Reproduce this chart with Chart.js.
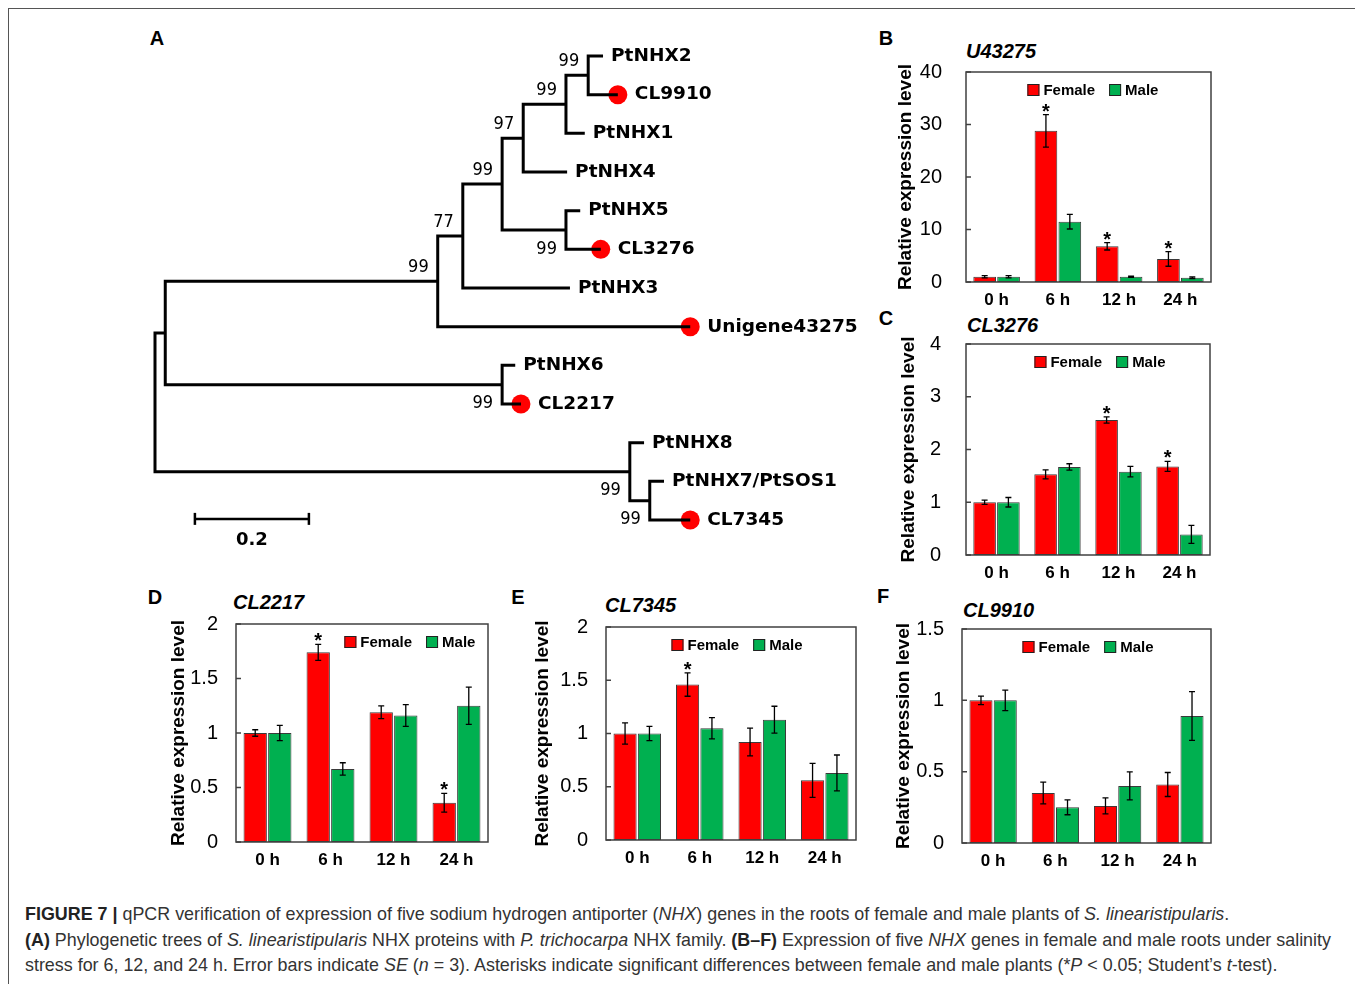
<!DOCTYPE html>
<html>
<head>
<meta charset="utf-8">
<script src="https://cdn.jsdelivr.net/npm/chart.js@4.4.0/dist/chart.umd.min.js"></script>
<style>
  html, body { margin: 0; padding: 0; background: #fff; }
  body { width: 1355px; height: 984px; position: relative; overflow: hidden; font-family: "Liberation Sans", Arial, sans-serif; }
  .rule-top { position: absolute; left: 8px; top: 8px; width: 1347px; border-top: 1.5px solid #555; }
  .rule-left { position: absolute; left: 8px; top: 8px; height: 976px; border-left: 1.5px solid #555; }
  canvas { position: absolute; }
  .letter { position: absolute; font: bold 20px "Liberation Sans", Arial, sans-serif; color: #000; transform: translate(-50%, -50%); }
  .gene { position: absolute; font: italic bold 20px "Liberation Sans", Arial, sans-serif; color: #000; transform: translateY(-50%); }
  .caption { position: absolute; left: 25px; top: 902px; font-size: 17.9px; line-height: 25.5px; color: #333; white-space: nowrap; }
  .caption b { color: #222; }
</style>
</head>
<body>
<div class="rule-top"></div>
<div class="rule-left"></div>

<div class="letter" style="left:157px;top:38px">A</div>
<div class="letter" style="left:886px;top:38px">B</div>
<div class="letter" style="left:886px;top:318px">C</div>
<div class="letter" style="left:155px;top:597px">D</div>
<div class="letter" style="left:518px;top:597px">E</div>
<div class="letter" style="left:883px;top:596px">F</div>

<div class="gene" style="left:966px;top:51px">U43275</div>
<div class="gene" style="left:967px;top:325px">CL3276</div>
<div class="gene" style="left:233px;top:602px">CL2217</div>
<div class="gene" style="left:605px;top:605px">CL7345</div>
<div class="gene" style="left:963px;top:610px">CL9910</div>

<canvas id="tree"></canvas>
<canvas id="panelB"></canvas>
<canvas id="panelC"></canvas>
<canvas id="panelD"></canvas>
<canvas id="panelE"></canvas>
<canvas id="panelF"></canvas>

<div class="caption">
  <div><b>FIGURE 7 |</b> qPCR verification of expression of five sodium hydrogen antiporter (<i>NHX</i>) genes in the roots of female and male plants of <i>S. linearistipularis</i>.</div>
  <div><b>(A)</b> Phylogenetic trees of <i>S. linearistipularis</i> NHX proteins with <i>P. trichocarpa</i> NHX family. <b>(B–F)</b> Expression of five <i>NHX</i> genes in female and male roots under salinity</div>
  <div>stress for 6, 12, and 24 h. Error bars indicate <i>SE</i> (<i>n</i> = 3). Asterisks indicate significant differences between female and male plants (*<i>P</i> &lt; 0.05; Student’s <i>t</i>-test).</div>
</div>

<script>
// ---- tree (A) ----
const leafNames = ["PtNHX2", "CL9910", "PtNHX1", "PtNHX4", "PtNHX5", "CL3276", "PtNHX3",
  "Unigene43275", "PtNHX6", "CL2217", "PtNHX8", "PtNHX7/PtSOS1", "CL7345"];
const leafDepths = [0.786, 0.812, 0.754, 0.723, 0.746, 0.782, 0.728, 0.939, 0.632, 0.642, 0.858, 0.893, 0.939];
const leafFromStudy = [false, true, false, false, false, true, false, true, false, true, false, false, true];
// each inner node joins two children: "Lk" = leaf k, "Nk" = inner node k
const nodeChildren = [["L0", "L1"], ["N0", "L2"], ["N1", "L3"], ["L4", "L5"], ["N2", "N3"], ["N4", "L6"],
  ["N5", "L7"], ["L8", "L9"], ["N6", "N7"], ["L11", "L12"], ["L10", "N9"], ["N8", "N10"]];
const nodeDepths = [0.760, 0.721, 0.646, 0.721, 0.609, 0.540, 0.496, 0.609, 0.018, 0.868, 0.833, 0];
const nodeSupport = [99, 99, 97, 99, 99, 77, 99, 99, null, 99, 99, null];
const supportBelow = [false, false, false, true, false, false, false, true, false, true, true, false];
const scaleBarLength = 0.2;

// ---- qPCR panels (B-F) ----
const timePoints = ["0 h", "6 h", "12 h", "24 h"];
const seriesNames = ["Female", "Male"];

const u43275Female = [1.0, 28.8, 6.8, 4.4];
const u43275FemaleSE = [0.2, 3.1, 0.7, 1.4];
const u43275Male = [1.0, 11.5, 1.0, 0.8];
const u43275MaleSE = [0.2, 1.4, 0.1, 0.15];
const u43275Star = [false, true, true, true];

const cl3276Female = [1.0, 1.53, 2.56, 1.68];
const cl3276FemaleSE = [0.04, 0.085, 0.06, 0.095];
const cl3276Male = [1.0, 1.67, 1.58, 0.39];
const cl3276MaleSE = [0.09, 0.06, 0.1, 0.17];
const cl3276Star = [false, false, true, true];

const cl2217Female = [1.0, 1.74, 1.19, 0.36];
const cl2217FemaleSE = [0.03, 0.073, 0.058, 0.086];
const cl2217Male = [1.0, 0.67, 1.16, 1.25];
const cl2217MaleSE = [0.07, 0.057, 0.1, 0.17];
const cl2217Star = [false, true, false, true];

const cl7345Female = [1.0, 1.46, 0.92, 0.56];
const cl7345FemaleSE = [0.1, 0.11, 0.13, 0.16];
const cl7345Male = [1.0, 1.05, 1.13, 0.63];
const cl7345MaleSE = [0.067, 0.1, 0.126, 0.168];
const cl7345Star = [false, true, false, false];

const cl9910Female = [1.0, 0.35, 0.26, 0.41];
const cl9910FemaleSE = [0.03, 0.076, 0.056, 0.084];
const cl9910Male = [1.0, 0.25, 0.40, 0.89];
const cl9910MaleSE = [0.072, 0.052, 0.098, 0.171];
const cl9910Star = [false, false, false, false];

Chart.defaults.font.family = '"Liberation Sans", Arial, sans-serif';
Chart.defaults.color = "#000";

// ---------- tree ----------
const nodeY = [];
function childPos(ref) {
  const k = +ref.slice(1);
  return ref[0] === "L" ? { x: leafDepths[k], y: k } : { x: nodeDepths[k], y: nodeY[k] };
}
nodeChildren.forEach((kids, i) => {
  nodeY[i] = (childPos(kids[0]).y + childPos(kids[1]).y) / 2;
});

const branchSets = nodeChildren.map((kids, i) => {
  const a = childPos(kids[0]), b = childPos(kids[1]);
  return {
    data: [a, { x: nodeDepths[i], y: a.y }, { x: nodeDepths[i], y: b.y }, b],
    showLine: true, borderColor: "#000", borderWidth: 3, pointRadius: 0,
    borderJoinStyle: "miter", borderCapStyle: "butt"
  };
});

const dotSet = {
  data: leafNames.map((n, k) => ({ x: leafDepths[k], y: k })).filter((p, k) => leafFromStudy[k]),
  pointRadius: 9.5, pointBackgroundColor: "#ff0000", pointBorderWidth: 0, showLine: false
};

const barStart = 0.07, barRow = 11.97;
const scaleSet = {
  data: [{ x: barStart, y: barRow }, { x: barStart + scaleBarLength, y: barRow }],
  showLine: true, borderColor: "#000", borderWidth: 2.5,
  pointStyle: "line", rotation: 90, pointRadius: 6, pointBorderWidth: 2.5, pointBorderColor: "#000"
};

const treeText = {
  id: "treeText",
  afterDatasetsDraw(chart) {
    const { ctx, scales: { x, y } } = chart;
    ctx.save();
    ctx.fillStyle = "#000";
    ctx.textBaseline = "middle";
    ctx.font = 'bold 18.5px "DejaVu Sans", Verdana, sans-serif';
    ctx.textAlign = "left";
    leafNames.forEach((name, k) => {
      const px = x.getPixelForValue(leafDepths[k]) + (leafFromStudy[k] ? 17 : 8);
      ctx.fillText(name, px, y.getPixelForValue(k));
    });
    ctx.font = '18px "DejaVu Sans Condensed", "Liberation Sans Narrow", "DejaVu Sans", sans-serif';
    ctx.textAlign = "right";
    nodeSupport.forEach((s, i) => {
      if (s == null) return;
      const py = y.getPixelForValue(nodeY[i]) + (supportBelow[i] ? 19 : -14);
      ctx.fillText(String(s), x.getPixelForValue(nodeDepths[i]) - 9, py);
    });
    ctx.textAlign = "center";
    ctx.font = 'bold 18px "DejaVu Sans", Verdana, sans-serif';
    ctx.fillText(scaleBarLength.toFixed(1), x.getPixelForValue(barStart + scaleBarLength / 2), y.getPixelForValue(barRow) + 21);
    ctx.restore();
  }
};

const treeCanvas = document.getElementById("tree");
treeCanvas.width = 730; treeCanvas.height = 540;
treeCanvas.style.left = "140px"; treeCanvas.style.top = "20px";
new Chart(treeCanvas, {
  type: "scatter",
  data: { datasets: [...branchSets, scaleSet, dotSet] },
  options: {
    responsive: false, animation: false,
    layout: { padding: 0, autoPadding: false },
    plugins: { legend: { display: false }, tooltip: { enabled: false } },
    scales: {
      x: { display: false, min: -15 / 570, max: -15 / 570 + 730 / 570 },
      y: { display: false, reverse: true, min: -36 / 38.67, max: -36 / 38.67 + 540 / 38.67 }
    }
  },
  plugins: [treeText]
});

// ---------- bar panels ----------
const barExtras = {
  id: "barExtras",
  afterDatasetsDraw(chart, args, opts) {
    const { ctx, chartArea: a, scales: { y } } = chart;
    ctx.save();
    ctx.strokeStyle = "#000";
    ctx.fillStyle = "#000";
    ctx.lineWidth = 1.3;
    ctx.font = 'bold 20px "Liberation Sans", Arial, sans-serif';
    ctx.textAlign = "center";
    ctx.textBaseline = "alphabetic";
    chart.data.datasets.forEach((ds, di) => {
      chart.getDatasetMeta(di).data.forEach((bar, i) => {
        const v = ds.data[i], e = ds.se[i];
        const yt = y.getPixelForValue(v + e), yb = y.getPixelForValue(v - e);
        ctx.beginPath();
        ctx.moveTo(bar.x, yt); ctx.lineTo(bar.x, yb);
        ctx.moveTo(bar.x - 3, yt); ctx.lineTo(bar.x + 3, yt);
        ctx.moveTo(bar.x - 3, yb); ctx.lineTo(bar.x + 3, yb);
        ctx.stroke();
        if (ds.star && ds.star[i]) ctx.fillText("*", bar.x, yt + 3);
      });
    });
    // frame and inward ticks
    ctx.strokeStyle = "#404040";
    ctx.lineWidth = 1.5;
    ctx.strokeRect(a.left, a.top, a.right - a.left, a.bottom - a.top);
    ctx.beginPath();
    y.ticks.forEach((t) => {
      const py = y.getPixelForValue(t.value);
      ctx.moveTo(a.left, py); ctx.lineTo(a.left + 5, py);
    });
    ctx.stroke();
    // legend inside the plot
    ctx.font = 'bold 15px "Liberation Sans", Arial, sans-serif';
    ctx.textAlign = "left";
    ctx.textBaseline = "middle";
    const items = chart.data.datasets.map((ds) => ({ label: ds.label, color: ds.backgroundColor, w: 16 + ctx.measureText(ds.label).width }));
    const gap = 14;
    const total = items.reduce((s, it) => s + it.w, 0) + gap * (items.length - 1);
    let lx = a.left + opts.legendAt * (a.right - a.left) - total / 2;
    const ly = a.top + 18;
    items.forEach((it) => {
      ctx.fillStyle = it.color;
      ctx.fillRect(lx, ly - 6, 12, 12);
      ctx.strokeStyle = "#222"; ctx.lineWidth = 1;
      ctx.strokeRect(lx + 0.5, ly - 5.5, 11, 11);
      ctx.fillStyle = "#000";
      ctx.fillText(it.label, lx + 16, ly + 1);
      lx += it.w + gap;
    });
    ctx.restore();
  }
};

function barPanel(id, area, female, femaleSE, male, maleSE, star, yMax, yStep) {
  const padTop = 14, padRight = 6, xAxisH = 35;
  const canvas = document.getElementById(id);
  canvas.width = area.yAxisW + (area.right - area.left) + padRight;
  canvas.height = padTop + (area.bottom - area.top) + xAxisH;
  const barStyle = { borderColor: "#3a3a3a", borderWidth: 1, borderSkipped: false, categoryPercentage: 0.78, barPercentage: 0.95 };
  const chart = new Chart(canvas, {
    type: "bar",
    data: {
      labels: timePoints,
      datasets: [
        { label: seriesNames[0], data: female, se: femaleSE, star: star, backgroundColor: "#ff0000", ...barStyle },
        { label: seriesNames[1], data: male, se: maleSE, backgroundColor: "#00b050", ...barStyle }
      ]
    },
    options: {
      responsive: false, maintainAspectRatio: false, animation: false,
      layout: { padding: { top: padTop, right: padRight, left: 0, bottom: 0 }, autoPadding: false },
      plugins: { legend: { display: false }, tooltip: { enabled: false }, barExtras: { legendAt: area.legendAt } },
      scales: {
        x: {
          grid: { display: false }, border: { display: false },
          ticks: { font: { size: 17, weight: "bold" }, color: "#000", padding: 0, maxRotation: 0 },
          afterFit(s) { s.height = xAxisH; }
        },
        y: {
          min: 0, max: yMax,
          grid: { display: false }, border: { display: false },
          ticks: { stepSize: yStep, font: { size: 20 }, color: "#000", padding: area.tickPad, callback: (v) => String(v) },
          title: { display: true, text: "Relative expression level", font: { size: 19, weight: "bold" }, color: "#000", padding: 0 },
          afterFit(s) { s.width = area.yAxisW; }
        }
      }
    },
    plugins: [barExtras]
  });
  // nudge the canvas so the plot box lands where the reference has it
  for (let k = 0; k < 3; k++) {
    const ca = chart.chartArea;
    const dw = (area.right - area.left) - (ca.right - ca.left);
    const dh = (area.bottom - area.top) - (ca.bottom - ca.top);
    if (Math.abs(dw) < 0.5 && Math.abs(dh) < 0.5) break;
    chart.resize(chart.width + dw, chart.height + dh);
  }
  canvas.style.left = (area.left - chart.chartArea.left) + "px";
  canvas.style.top = (area.top - chart.chartArea.top) + "px";
}

const layoutB = { left: 966, top: 72, right: 1211, bottom: 282, yAxisW: 72, tickPad: 16, legendAt: 0.518 };
const layoutC = { left: 966, top: 344, right: 1210, bottom: 555, yAxisW: 69, tickPad: 17, legendAt: 0.549 };
const layoutD = { left: 236, top: 624, right: 488, bottom: 842, yAxisW: 69, tickPad: 10, legendAt: 0.69 };
const layoutE = { left: 606, top: 627, right: 856, bottom: 840, yAxisW: 75, tickPad: 10, legendAt: 0.524 };
const layoutF = { left: 962, top: 629, right: 1211, bottom: 843, yAxisW: 70, tickPad: 10, legendAt: 0.506 };

barPanel("panelB", layoutB, u43275Female, u43275FemaleSE, u43275Male, u43275MaleSE, u43275Star, 40, 10);
barPanel("panelC", layoutC, cl3276Female, cl3276FemaleSE, cl3276Male, cl3276MaleSE, cl3276Star, 4, 1);
barPanel("panelD", layoutD, cl2217Female, cl2217FemaleSE, cl2217Male, cl2217MaleSE, cl2217Star, 2, 0.5);
barPanel("panelE", layoutE, cl7345Female, cl7345FemaleSE, cl7345Male, cl7345MaleSE, cl7345Star, 2, 0.5);
barPanel("panelF", layoutF, cl9910Female, cl9910FemaleSE, cl9910Male, cl9910MaleSE, cl9910Star, 1.5, 0.5);
</script>
</body>
</html>
